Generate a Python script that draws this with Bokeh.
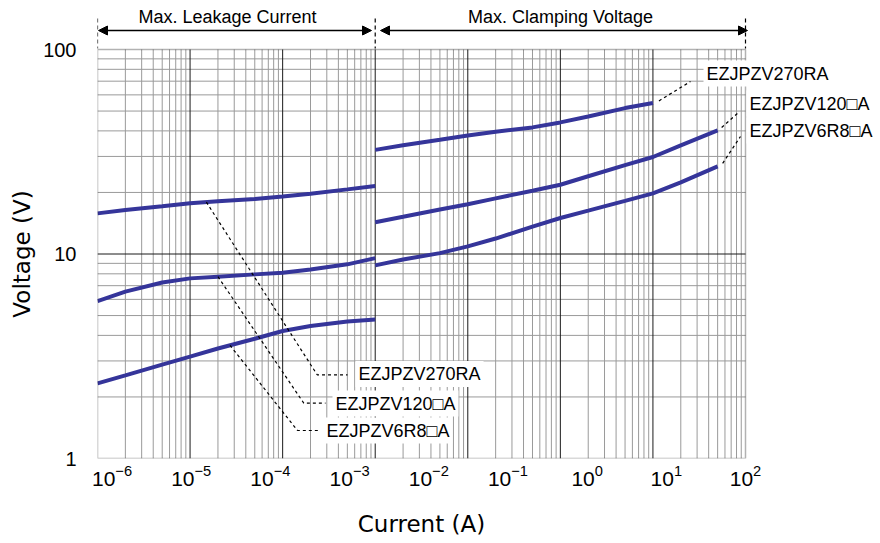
import numpy as np
from bokeh.plotting import figure
from bokeh.models import (Range1d, LogScale, LogAxis, FixedTicker, Label, Arrow,
                          NormalHead, NumeralTickFormatter, BoxAnnotation,
                          CustomJSTickFormatter)
from bokeh.embed import file_html
from bokeh.resources import INLINE

# ---------------- data ----------------
current_leak = [1e-6, 2e-6, 5e-6, 1e-5, 2e-5, 5e-5, 1e-4, 2e-4, 5e-4, 1e-3]
current_clamp = [1e-3, 2e-3, 5e-3, 1e-2, 2e-2, 5e-2, 1e-1, 2e-1, 5e-1, 1e0, 2e0, 5e0]

leak_270RA = [15.8, 16.4, 17.1, 17.7, 18.1, 18.6, 19.1, 19.7, 20.7, 21.5]
leak_120 = [5.88, 6.55, 7.25, 7.6, 7.75, 7.95, 8.1, 8.4, 8.9, 9.55]
leak_6R8 = [2.33, 2.55, 2.88, 3.15, 3.45, 3.85, 4.2, 4.45, 4.68, 4.78]

clamp_270RA = [32.3, 34.0, 36.2, 38.0, 39.6, 41.6, 44.0, 47.0, 51.7, 54.8]
clamp_120 = [14.3, 15.2, 16.5, 17.5, 18.7, 20.4, 21.8, 24.0, 27.2, 29.8, 34.0, 40.2]
clamp_6R8 = [8.8, 9.4, 10.1, 10.9, 11.9, 13.6, 15.0, 16.3, 18.2, 19.8, 22.4, 26.8]

series_names = ["EZJPZV270RA", "EZJPZV120\u25a1A", "EZJPZV6R8\u25a1A"]
x_tick_labels = [1e-6, 1e-5, 1e-4, 1e-3, 1e-2, 1e-1, 1e0, 1e1, 1e2]
y_ticks = [1, 10, 100]
section_titles = ["Max. Leakage Current", "Max. Clamping Voltage"]
x_title = "Current (A)"
y_title = "Voltage (V)"

# ---------------- layout ----------------
BLUE = "#35359a"
W, H = 880, 543
FL, FR, FT, FB = 97, 745, 49, 458          # plot-box edges in canvas pixels
X_DEC = (-6, 1)                            # grid decades across the box
Y_DEC = (0, 2)
LBL_DEC = (-6.184, 2.0)                    # tick-label scale across the box


def xd(px):
    return 10 ** (X_DEC[0] + (X_DEC[1] - X_DEC[0]) * (px - FL) / (FR - FL))


def yd(py):
    return 10 ** (Y_DEC[0] + (Y_DEC[1] - Y_DEC[0]) * (FB - py) / (FB - FT))


def px_of(x):
    return FL + (FR - FL) * (np.log10(x) - X_DEC[0]) / (X_DEC[1] - X_DEC[0])


def py_of(y):
    return FB - (FB - FT) * (np.log10(y) - Y_DEC[0]) / (Y_DEC[1] - Y_DEC[0])


# the frame covers the box plus the space above and right of it, so that the
# annotations there are drawn (annotations are clipped to the frame)
p = figure(width=W, height=H, output_backend="svg", toolbar_location=None,
           x_axis_type="log", y_axis_type="log", x_axis_location=None,
           x_range=Range1d(10 ** X_DEC[0], xd(W)),
           y_range=Range1d(10 ** Y_DEC[0], yd(0)),
           min_border_left=FL, min_border_right=0,
           min_border_top=0, min_border_bottom=H - FB)
p.background_fill_color = "white"
p.border_fill_color = "white"
p.outline_line_color = None
p.grid.visible = False


def plain_axis(ax):
    ax.major_tick_line_color = None
    ax.minor_tick_line_color = None
    ax.axis_line_color = None
    ax.major_label_text_color = "black"


# tick-label axis on its own evenly spread log scale
lbl_hi = LBL_DEC[0] + (LBL_DEC[1] - LBL_DEC[0]) * (W - FL) / (FR - FL)
p.extra_x_ranges = {"lbl": Range1d(10 ** LBL_DEC[0], 10 ** lbl_hi)}
p.extra_x_scales = {"lbl": LogScale()}
xa = LogAxis(x_range_name="lbl", ticker=FixedTicker(ticks=x_tick_labels),
             bounds=(10 ** LBL_DEC[0], 10 ** LBL_DEC[1]))
plain_axis(xa)
xa.major_label_standoff = 0
xa.major_label_text_font = "Liberation Sans"
xa.major_label_text_font_size = "21px"
p.add_layout(xa, "below")

# axis titles centred on the box (the frame is larger than the box)
xt = LogAxis(ticker=FixedTicker(ticks=[xd((FL + FR) / 2)]),
             formatter=CustomJSTickFormatter(args=dict(t=x_title), code="return t"))
plain_axis(xt)
xt.major_label_standoff = 16
xt.major_label_text_font = "DejaVu Sans"
xt.major_label_text_font_size = "23px"
p.add_layout(xt, "below")

ya = p.yaxis[0]
ya.bounds = (10 ** Y_DEC[0], 10 ** Y_DEC[1])
ya.ticker = FixedTicker(ticks=y_ticks)
ya.formatter = NumeralTickFormatter(format="0")
plain_axis(ya)
ya.major_label_standoff = 15
ya.major_label_text_font = "Liberation Sans"
ya.major_label_text_font_size = "20px"

yt = LogAxis(ticker=FixedTicker(ticks=[yd((FT + FB) / 2)]),
             formatter=CustomJSTickFormatter(args=dict(t=y_title), code="return t"))
plain_axis(yt)
yt.major_label_orientation = "vertical"
yt.major_label_standoff = 0
yt.major_label_text_font = "DejaVu Sans"
yt.major_label_text_font_size = "23px"
p.add_layout(yt, "left")


# grid lines of the plot box
def decades(lo, hi):
    major, minor = [], []
    for e in range(lo, hi):
        if e > lo:
            major.append(10.0 ** e)
        minor += [m * 10.0 ** e for m in range(2, 10)]
    return major, minor


xmaj, xmin = decades(*X_DEC)
ymaj, ymin = decades(*Y_DEC)
x_lo, x_hi = 10.0 ** X_DEC[0], 10.0 ** X_DEC[1]
y_lo, y_hi = 10.0 ** Y_DEC[0], 10.0 ** Y_DEC[1]
for xg, yg, col in [(xmin, ymin, "#9a9a9a"), (xmaj, ymaj, "#1a1a1a")]:
    p.segment(x0=xg, y0=[y_lo] * len(xg), x1=xg, y1=[y_hi] * len(xg),
              line_color=col, line_width=1)
    p.segment(x0=[x_lo] * len(yg), y0=yg, x1=[x_hi] * len(yg), y1=yg,
              line_color=col, line_width=1)

# curves
for ys in (leak_270RA, leak_120, leak_6R8):
    p.line(current_leak, ys, line_color=BLUE, line_width=4)
for ys in (clamp_270RA, clamp_120, clamp_6R8):
    p.line(current_clamp[:len(ys)], ys, line_color=BLUE, line_width=4)

# box outline
p.add_layout(BoxAnnotation(left=x_lo, right=x_hi, bottom=y_lo, top=y_hi,
                           fill_alpha=0, line_color="black", line_width=1.5))

LBL = dict(text_font="Liberation Sans", text_font_size="18px", text_color="black",
           text_align="left", text_baseline="middle",
           background_fill_color="white", background_fill_alpha=1.0, padding=3)
DASH = dict(line_color="black", line_width=1.2, line_dash="3 3")

# right-hand labels (clamping section)
right_offsets = [(6, -2), (4, -3), (5, -3)]
right_ends = [(690, 81), (738, 112), (740, 136)]
right_text = [(703, 73), (746, 103), (746, 130)]
for name, ys, off, end, tx in zip(series_names, (clamp_270RA, clamp_120, clamp_6R8),
                                 right_offsets, right_ends, right_text):
    x_last = current_clamp[len(ys) - 1]
    sx, sy = px_of(x_last) + off[0], py_of(ys[-1]) + off[1]
    p.line([xd(sx), xd(end[0])], [yd(sy), yd(end[1])], **DASH)
    p.add_layout(Label(x=xd(tx[0]), y=yd(tx[1]), text=name, **LBL))

# left-hand labels (leakage section)
anchor_currents = [1.5e-5, 2e-5, 2.7e-5]
elbows = [(316.7, 374.3), (303.3, 402.7), (297, 430)]
h_ends = [347, 325, 318]
left_text = [(355, 373.5), (332, 403), (323, 430)]
lx = np.log10(current_leak)
for name, ys, a, el, he, tx in zip(series_names, (leak_270RA, leak_120, leak_6R8),
                                  anchor_currents, elbows, h_ends, left_text):
    ay = 10 ** np.interp(np.log10(a), lx, np.log10(ys))
    p.line([a, xd(el[0]), xd(he)], [ay, yd(el[1]), yd(el[1])], **DASH)
    p.add_layout(Label(x=xd(tx[0]), y=yd(tx[1]), text=name, **LBL))

# section annotations above the box
for xs, xe in [(98, 371), (380, 747)]:
    p.add_layout(Arrow(x_start=xd(xs), y_start=yd(30), x_end=xd(xe), y_end=yd(30),
                       line_color="black", line_width=1.6,
                       start=NormalHead(size=9, fill_color="black", line_color="black"),
                       end=NormalHead(size=9, fill_color="black", line_color="black")))
for bx in (FL, px_of(current_leak[-1]), FR):
    p.add_layout(Arrow(x_start=xd(bx), y_start=yd(18), x_end=xd(bx), y_end=yd(48),
                       start=None, end=None, line_color="black", line_width=1.2,
                       line_dash="4 3"))
for title, cx in zip(section_titles, (227, 560)):
    p.add_layout(Label(x=xd(cx), y=yd(16), text=title,
                       text_font="Liberation Sans", text_font_size="18px",
                       text_align="center", text_baseline="middle", text_color="black"))

open("out.html", "w").write(file_html(p, INLINE))
